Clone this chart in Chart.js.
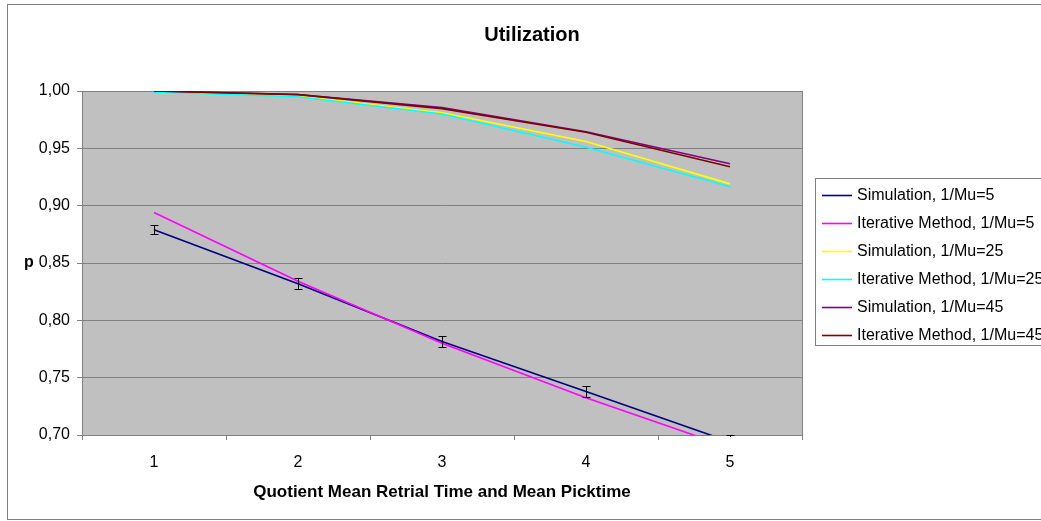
<!DOCTYPE html>
<html><head><meta charset="utf-8">
<script src="https://cdn.jsdelivr.net/npm/chart.js@4/dist/chart.umd.min.js"></script>
<style>html,body{margin:0;padding:0;background:#fff;overflow:hidden;}</style>
</head><body><canvas id="c" width="1041" height="521"></canvas>
<script>
const categories = ['1', '2', '3', '4', '5'];
const seriesNames = ['Simulation, 1/Mu=5', 'Iterative Method, 1/Mu=5', 'Simulation, 1/Mu=25',
  'Iterative Method, 1/Mu=25', 'Simulation, 1/Mu=45', 'Iterative Method, 1/Mu=45'];
const sim5 = [0.879, 0.832, 0.7815, 0.738, 0.694];
const sim5Err = [0.004, 0.0045, 0.005, 0.005, 0.006];
const iter5 = [0.894, 0.834, 0.780, 0.7325, 0.689];
const sim25 = [0.999, 0.9955, 0.981, 0.956, 0.919];
const iter25 = [0.999, 0.995, 0.980, 0.951, 0.9165];
const sim45 = [1.000, 0.997, 0.9855, 0.9645, 0.9365];
const iter45 = [1.000, 0.9968, 0.9846, 0.964, 0.934];
const yMin = 0.70, yMax = 1.00, yStep = 0.05;
const titleText = 'Utilization';
const xTitle = 'Quotient Mean Retrial Time and Mean Picktime';
const yTitle = 'p';

const colors = ['#000080', '#FF00FF', '#FFFF00', '#00FFFF', '#800080', '#800000'];
const seriesData = [sim5, iter5, sim25, iter25, sim45, iter45];
const errData = [sim5Err, null, null, null, null, null];
const FONT = "'Liberation Sans', Arial, sans-serif";

const datasets = seriesData.map((d, i) => ({
  label: seriesNames[i], data: d, borderColor: colors[i], backgroundColor: colors[i],
  borderWidth: 1.6, pointRadius: 0, tension: 0, fill: false, order: 6 - i
}));

const framePlugin = {
  id: 'frame',
  beforeDraw(chart) {
    const {ctx, chartArea: a} = chart;
    ctx.save();
    ctx.fillStyle = '#ffffff';
    ctx.fillRect(0, 0, chart.width, chart.height);
    ctx.fillStyle = '#C0C0C0';
    ctx.fillRect(a.left, a.top, a.right - a.left, a.bottom - a.top);
    ctx.restore();
  },
  afterDatasetsDraw(chart) {
    const {ctx, chartArea: a} = chart;
    const xs = chart.scales.x, ys = chart.scales.y;
    ctx.save();
    ctx.beginPath();
    ctx.rect(a.left, a.top - 3, a.right - a.left, a.bottom - a.top + 5);
    ctx.clip();
    ctx.strokeStyle = '#000000';
    ctx.lineWidth = 1;
    errData.forEach((errs, i) => {
      if (!errs) return;
      seriesData[i].forEach((v, j) => {
        const x = Math.round(xs.getPixelForValue(j)) + 0.5;
        const yt = Math.round(ys.getPixelForValue(v + errs[j])) + 0.5;
        const yb = Math.round(ys.getPixelForValue(v - errs[j])) + 0.5;
        ctx.beginPath();
        ctx.moveTo(x, yt); ctx.lineTo(x, yb);
        ctx.moveTo(x - 4, yt); ctx.lineTo(x + 4, yt);
        ctx.moveTo(x - 4, yb); ctx.lineTo(x + 4, yb);
        ctx.stroke();
      });
    });
    ctx.restore();
  },
  afterDraw(chart) {
    const {ctx, chartArea: a} = chart;
    ctx.save();
    ctx.strokeStyle = '#808080';
    ctx.lineWidth = 1;
    ctx.beginPath();
    ctx.moveTo(Math.round(a.right) + 0.5, a.top);
    ctx.lineTo(Math.round(a.right) + 0.5, a.bottom);
    ctx.stroke();
    // outer border
    ctx.strokeRect(7.5, 4.5, 1040, 515);
    // title
    ctx.fillStyle = '#000';
    ctx.textAlign = 'center';
    ctx.textBaseline = 'middle';
    ctx.font = 'bold 20px ' + FONT;
    ctx.fillText(titleText, 532, 35);
    // y title
    ctx.font = 'bold 16px ' + FONT;
    ctx.fillText(yTitle, 29, (a.top + a.bottom) / 2);
    // legend
    const lx = 815.5, ly = 178.5;
    ctx.strokeStyle = '#808080';
    ctx.strokeRect(lx, ly, 260, 167);
    ctx.textAlign = 'left';
    ctx.font = '16px ' + FONT;
    seriesNames.forEach((n, i) => {
      const y = 195 + i * 27.9;
      ctx.strokeStyle = colors[i];
      ctx.lineWidth = 1.6;
      ctx.beginPath();
      ctx.moveTo(822, Math.round(y) + 0.5);
      ctx.lineTo(852, Math.round(y) + 0.5);
      ctx.stroke();
      ctx.fillStyle = '#000';
      ctx.fillText(n, 857, y + 1);
    });
    ctx.restore();
  }
};

new Chart(document.getElementById('c'), {
  type: 'line',
  data: { labels: categories, datasets },
  options: {
    responsive: false, animation: false, devicePixelRatio: 1,
    layout: { padding: { top: 91, right: 239, left: 0, bottom: 0 } },
    plugins: { legend: { display: false }, title: { display: false }, tooltip: { enabled: false } },
    scales: {
      x: {
        type: 'category', offset: true,
        grid: { display: true, drawOnChartArea: false, drawTicks: true, tickLength: 5, color: '#808080', offset: true },
        border: { display: true, color: '#808080' },
        ticks: { color: '#000', font: { family: FONT, size: 16 }, padding: 13, maxRotation: 0 },
        title: { display: true, text: xTitle, color: '#000', font: { family: FONT, size: 17, weight: 'bold' }, padding: { top: 0, bottom: 18 } },
        afterFit(s) { s.height = 86; }
      },
      y: {
        min: yMin, max: yMax,
        grid: { color: '#808080', drawTicks: true, tickLength: 5 },
        border: { display: true, color: '#808080' },
        ticks: { stepSize: yStep, color: '#000', font: { family: FONT, size: 16 }, padding: 7,
          callback: v => v.toFixed(2).replace('.', ',') },
        afterFit(s) { s.width = 82; }
      }
    }
  },
  plugins: [framePlugin]
});
</script>
</body></html>
